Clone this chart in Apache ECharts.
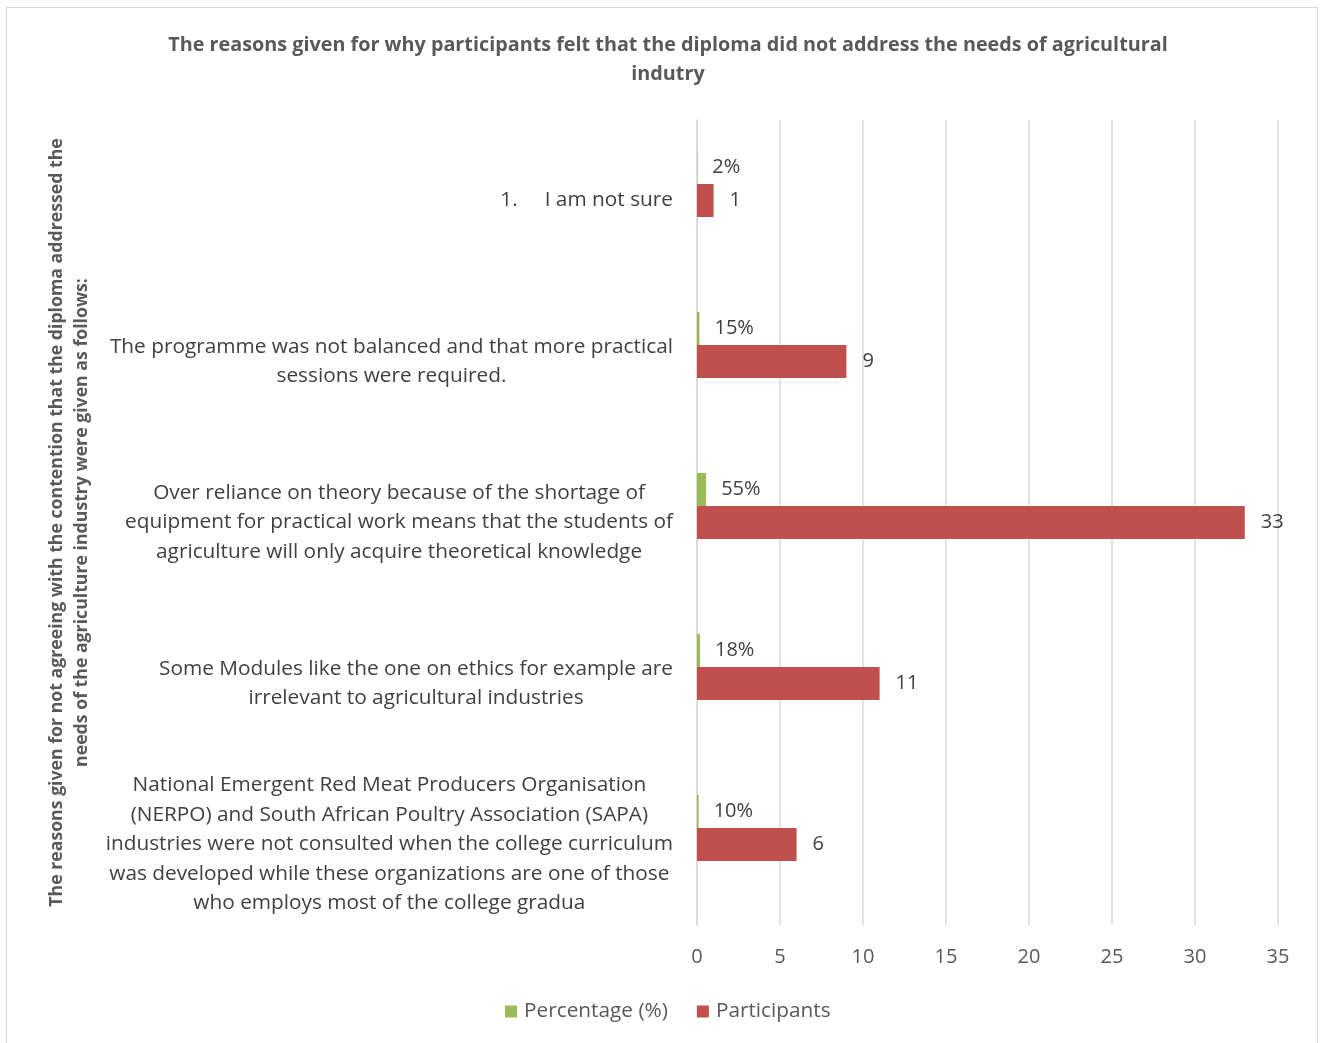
<!DOCTYPE html>
<html>
<head>
<meta charset="utf-8">
<title>Reasons the diploma did not address industry needs</title>
<script src="https://cdn.jsdelivr.net/npm/echarts@6/dist/echarts.min.js"></script>
<style>
  html, body { margin: 0; padding: 0; background: #ffffff; }
  #chart { position: absolute; left: 0; top: 0; width: 1325px; height: 1043px; }
  #frame { position: absolute; left: 6px; top: 7px; width: 1312px; height: 1060px;
           border: 1.5px solid #d9d9d9; box-sizing: border-box; pointer-events: none; }
</style>
</head>
<body>
<div id="chart"></div>
<div id="frame"></div>
<script>
// Reasons (category axis, top to bottom); each line of a reason is one entry
const reasons = [
  ['1.     I am not sure'],
  ['The programme was not balanced and that more practical', 'sessions were required.'],
  ['Over reliance on theory because of the shortage of',
   'equipment for practical work means that the students of',
   'agriculture will only acquire theoretical knowledge'],
  ['Some Modules like the one on ethics for example are', 'irrelevant to agricultural industries'],
  ['National Emergent Red Meat Producers Organisation',
   '(NERPO) and South African Poultry Association (SAPA)',
   'industries were not consulted when the college curriculum',
   'was developed while these organizations are one of those',
   'who employs most of the college gradua']
];

// Share of participants (fraction) and participant counts per reason
const percentage = [0.02, 0.15, 0.55, 0.18, 0.10];
const participants = [1, 9, 33, 11, 6];

// Value axis ticks
const axisMin = 0;
const axisMax = 35;
const axisStep = 5;

const categories = reasons.map(r => r.join('\n'));

const FONT = '"Open Sans", "Noto Sans", sans-serif';
const TEXT = '#595959';
const DARK = '#404040';
const LABEL_SIZE = 20.8;

const chart = echarts.init(document.getElementById('chart'), null, { renderer: 'canvas' });

chart.setOption({
  animation: false,
  backgroundColor: '#ffffff',
  textStyle: { fontFamily: FONT },
  title: {
    text: 'The reasons given for why participants felt that the diploma did not address the needs of agricultural\nindutry',
    left: 663,
    textAlign: 'center',
    top: 26,
    textStyle: { fontFamily: FONT, fontSize: 19.8, fontWeight: 'bold', color: TEXT, lineHeight: 29 }
  },
  legend: {
    bottom: 16,
    left: 500,
    itemWidth: 12,
    itemHeight: 12,
    itemGap: 29,
    icon: 'rect',
    data: ['Percentage (%)', 'Participants'],
    textStyle: { fontFamily: FONT, fontSize: LABEL_SIZE, color: TEXT, padding: [0, 0, 0, 2] }
  },
  grid: { left: 697, right: 47, top: 120, bottom: 118, containLabel: false },
  xAxis: {
    type: 'value',
    min: axisMin,
    max: axisMax,
    interval: axisStep,
    axisLine: { show: false },
    axisTick: { show: false },
    splitLine: { show: true, lineStyle: { color: '#d9d9d9', width: 1.5 } },
    axisLabel: { fontFamily: FONT, fontSize: 20, color: TEXT, margin: 22 }
  },
  yAxis: {
    type: 'category',
    inverse: true,
    data: categories,
    name: 'The reasons given for not agreeing with the contention that the diploma addressed the\nneeds of the agriculture industry were given as follows:',
    nameLocation: 'middle',
    nameRotate: 90,
    nameGap: 603,
    nameTextStyle: { fontFamily: FONT, fontSize: 17.7, fontWeight: 'bold', color: TEXT, lineHeight: 25, align: 'center' },
    axisLine: { show: true, lineStyle: { color: '#d9d9d9', width: 1.5 } },
    axisTick: { show: false },
    axisLabel: {
      margin: 24,
      fontFamily: FONT,
      fontSize: LABEL_SIZE,
      color: DARK,
      lineHeight: 29.5,
      formatter: function (value) {
        return value.split('\n').map(line => '{c|' + line + '}').join('\n');
      },
      rich: {
        c: { align: 'center', fontFamily: FONT, fontSize: LABEL_SIZE, color: DARK, lineHeight: 29.5 }
      }
    }
  },
  series: [
    {
      name: 'Percentage (%)',
      type: 'bar',
      data: percentage,
      barWidth: 33,
      barGap: '0%',
      itemStyle: { color: '#9bbb59' },
      label: {
        show: true,
        position: 'right',
        distance: 15,
        fontFamily: FONT,
        fontSize: 20,
        color: DARK,
        formatter: p => Math.round(p.value * 100) + '%'
      }
    },
    {
      name: 'Participants',
      type: 'bar',
      data: participants,
      barWidth: 33,
      barGap: '0%',
      itemStyle: { color: '#c0504d' },
      label: {
        show: true,
        position: 'right',
        distance: 16,
        fontFamily: FONT,
        fontSize: 20,
        color: DARK
      }
    },
    {
      // empty third slot keeps the participant bar centred in each band
      name: 'spacer',
      type: 'bar',
      data: [],
      barWidth: 33,
      barGap: '0%',
      silent: true
    }
  ]
});
</script>
</body>
</html>
